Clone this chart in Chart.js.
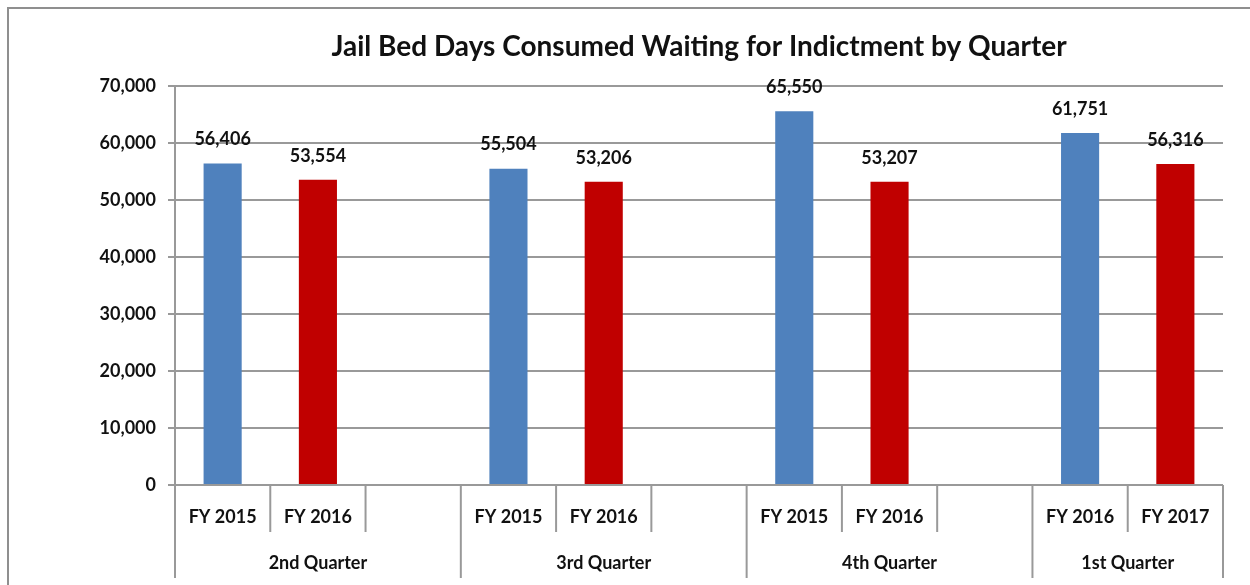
<!DOCTYPE html>
<html>
<head>
<meta charset="utf-8">
<script src="https://cdn.jsdelivr.net/npm/chart.js@4.4.0/dist/chart.umd.min.js"></script>
<style>
  html, body { margin: 0; padding: 0; background: #fff; overflow: hidden; }
  #wrap { position: relative; width: 1250px; height: 585px; }
  #frame { position: absolute; left: 7px; top: 7px; width: 1300px; height: 700px;
           border: 2px solid #8f8f8f; pointer-events: none; }
</style>
</head>
<body>
<div id="wrap">
  <canvas id="bars" width="1250" height="585"></canvas>
  <div id="frame"></div>
</div>
<script>
const fyLabels = ['FY 2015', 'FY 2016', '', 'FY 2015', 'FY 2016', '', 'FY 2015', 'FY 2016', '', 'FY 2016', 'FY 2017'];
const bedDays = [56406, 53554, null, 55504, 53206, null, 65550, 53207, null, 61751, 56316];
const barColors = ['#4F81BD', '#C00000', '#4F81BD', '#4F81BD', '#C00000', '#4F81BD', '#4F81BD', '#C00000', '#4F81BD', '#4F81BD', '#C00000'];
const quarters = ['2nd Quarter', '3rd Quarter', '4th Quarter', '1st Quarter'];
const quarterSizes = [3, 3, 3, 2];
const chartTitle = 'Jail Bed Days Consumed Waiting for Indictment by Quarter';

const fontFamily = 'Lato, "Open Sans", sans-serif';
const textColor = '#111';
const lineColor = '#999';

// title centred over the plot area, like the original
const plotTitle = {
    id: 'plotTitle',
    afterDraw(chart) {
        const ctx = chart.ctx;
        const area = chart.chartArea;
        ctx.save();
        ctx.font = 'bold 28px ' + fontFamily;
        ctx.fillStyle = textColor;
        ctx.textAlign = 'center';
        ctx.textBaseline = 'middle';
        ctx.fillText(chartTitle, (area.left + area.right) / 2, 47);
        ctx.restore();
    }
};

// value labels above bars
const valueLabels = {
    id: 'valueLabels',
    afterDatasetsDraw(chart) {
        const ctx = chart.ctx;
        const meta = chart.getDatasetMeta(0);
        ctx.save();
        ctx.font = 'bold 18px ' + fontFamily;
        ctx.fillStyle = textColor;
        ctx.textAlign = 'center';
        ctx.textBaseline = 'middle';
        meta.data.forEach((bar, i) => {
            const v = bedDays[i];
            if (v === null) return;
            ctx.fillText(v.toLocaleString('en-US'), bar.x, bar.y - 24);
        });
        ctx.restore();
    }
};

// two-level category axis: separators and quarter names
const groupAxis = {
    id: 'groupAxis',
    afterDraw(chart) {
        const ctx = chart.ctx;
        const x = chart.scales.x;
        const base = chart.chartArea.bottom;
        const half = (x.getPixelForValue(1) - x.getPixelForValue(0)) / 2;
        ctx.save();
        ctx.strokeStyle = lineColor;
        ctx.lineWidth = 2;
        let idx = 0;
        const groupEdges = [0];
        quarterSizes.forEach(n => { idx += n; groupEdges.push(idx); });
        for (let i = 0; i <= fyLabels.length; i++) {
            const px = i < fyLabels.length ? x.getPixelForValue(i) - half : x.getPixelForValue(i - 1) + half;
            const long = groupEdges.includes(i);
            ctx.beginPath();
            ctx.moveTo(px, base);
            ctx.lineTo(px, long ? base + 93 : base + 47);
            ctx.stroke();
        }
        ctx.font = 'bold 18px ' + fontFamily;
        ctx.fillStyle = textColor;
        ctx.textAlign = 'center';
        ctx.textBaseline = 'middle';
        quarters.forEach((q, g) => {
            const a = x.getPixelForValue(groupEdges[g]) - half;
            const b = x.getPixelForValue(groupEdges[g + 1] - 1) + half;
            ctx.fillText(q, (a + b) / 2, base + 78);
        });
        ctx.restore();
    }
};

const chart = new Chart(document.getElementById('bars').getContext('2d'), {
    type: 'bar',
    data: {
        labels: fyLabels,
        datasets: [{
            data: bedDays,
            backgroundColor: barColors,
            barPercentage: 0.4,
            categoryPercentage: 1
        }]
    },
    options: {
        responsive: false,
        animation: false,
        layout: { padding: { left: 0, right: 27, top: 86, bottom: 0 } },
        plugins: {
            legend: { display: false },
            tooltip: { enabled: false },
            title: { display: false }
        },
        scales: {
            x: {
                grid: { display: false, drawTicks: false },
                border: { display: false },
                ticks: {
                    color: textColor,
                    font: { family: fontFamily, size: 18, weight: 'bold' },
                    padding: 21,
                    autoSkip: false,
                    maxRotation: 0
                },
                afterFit(scale) { scale.height = 100; }
            },
            y: {
                min: 0,
                max: 70000,
                grid: { color: lineColor, lineWidth: 2, tickLength: 7 },
                border: { display: true, color: lineColor, width: 2 },
                ticks: {
                    stepSize: 10000,
                    color: textColor,
                    font: { family: fontFamily, size: 18, weight: 'bold' },
                    padding: 12,
                    callback: v => v.toLocaleString('en-US')
                },
                afterFit(scale) { scale.width = 175; }
            }
        }
    },
    plugins: [plotTitle, valueLabels, groupAxis]
});
</script>
</body>
</html>
